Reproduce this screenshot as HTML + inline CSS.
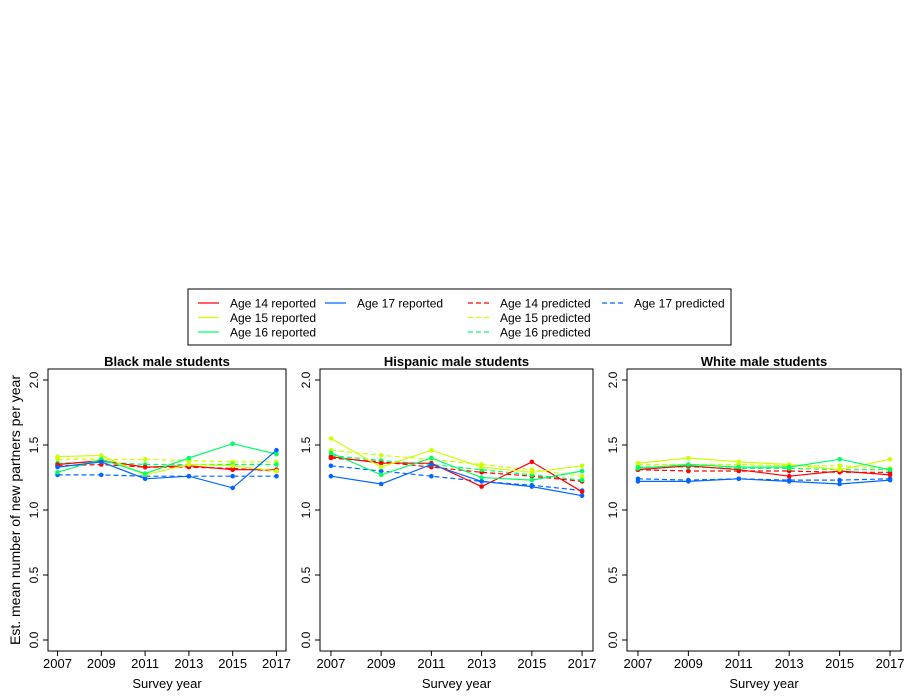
<!DOCTYPE html>
<html><head><meta charset="utf-8"><style>
body{margin:0;background:#fff}
svg{display:block;font-family:"Liberation Sans",Arial,sans-serif}
</style></head><body>
<svg id="c" width="920" height="700"></svg>
<script>
const years=[2007,2009,2011,2013,2015,2017];
const yTicks=[0,0.5,1,1.5,2];
const yTickLabels=["0.0","0.5","1.0","1.5","2.0"];
const panelTitles=["Black male students","Hispanic male students","White male students"];
const ageLabels=["Age 14","Age 15","Age 16","Age 17"];
const blackReported=[[1.35,1.38,1.33,1.34,1.31,1.31],[1.41,1.42,1.27,1.35,1.34,1.30],[1.29,1.39,1.28,1.40,1.51,1.43],[1.33,1.37,1.24,1.26,1.17,1.46]];
const blackPredicted=[[1.34,1.35,1.33,1.33,1.32,1.30],[1.39,1.39,1.39,1.38,1.37,1.37],[1.36,1.37,1.35,1.35,1.35,1.35],[1.27,1.27,1.26,1.26,1.26,1.26]];
const hispReported=[[1.41,1.36,1.36,1.18,1.37,1.14],[1.55,1.33,1.46,1.33,1.29,1.34],[1.44,1.27,1.40,1.25,1.23,1.30],[1.26,1.20,1.35,1.22,1.18,1.11]];
const hispPredicted=[[1.40,1.37,1.33,1.29,1.26,1.22],[1.46,1.42,1.39,1.35,1.31,1.26],[1.42,1.38,1.35,1.31,1.27,1.23],[1.34,1.30,1.26,1.22,1.19,1.15]];
const whiteReported=[[1.31,1.34,1.31,1.26,1.30,1.27],[1.36,1.40,1.37,1.35,1.31,1.39],[1.32,1.35,1.33,1.33,1.39,1.31],[1.22,1.22,1.24,1.22,1.20,1.23]];
const whitePredicted=[[1.31,1.30,1.30,1.30,1.29,1.29],[1.35,1.35,1.35,1.34,1.34,1.32],[1.33,1.33,1.32,1.32,1.31,1.31],[1.24,1.23,1.24,1.23,1.23,1.24]];
const colors=["#FF0000","#CCFF00","#00FF66","#0066FF"];
const reportedAll=[blackReported,hispReported,whiteReported];
const predictedAll=[blackPredicted,hispPredicted,whitePredicted];
const panels=[{l:48,r:286},{l:320,r:593},{l:627,r:901}];
const plotTop=369,plotBot=651;
const svg=document.getElementById('c');
const NS="http://www.w3.org/2000/svg";
function mk(t,a,p){const e=document.createElementNS(NS,t);for(const k in a)e.setAttribute(k,a[k]);(p||svg).appendChild(e);return e;}
function yS(v){return 640-v*130;}
panels.forEach((p,pi)=>{
  const g=mk('g',{});
  
  
  const w=p.r-p.l, x0=p.l+0.04*w, x1=p.r-0.04*w;
  const xS=y=>x0+(y-2007)/10*(x1-x0);
  const fr=mk('rect',{x:p.l,y:plotTop,width:w,height:plotBot-plotTop,fill:'none',stroke:'#000','stroke-width':1},g);
  
  
  const t=mk('text',{x:(p.l+p.r)/2,y:366,'text-anchor':'middle','font-size':13,'font-weight':'bold'},g);
  t.textContent=panelTitles[pi];
  
  
  yTicks.forEach((v,i)=>{
    mk('line',{x1:p.l-5,x2:p.l,y1:yS(v),y2:yS(v),stroke:'#000'},g);
    const lx=p.l-10;
    const tl=mk('text',{x:lx,y:yS(v),'text-anchor':'middle','font-size':12,transform:`rotate(-90 ${lx} ${yS(v)})`},g);
    tl.textContent=yTickLabels[i];
    
    
  });
  years.forEach(y=>{
    mk('line',{x1:xS(y),x2:xS(y),y1:plotBot,y2:plotBot+5,stroke:'#000'},g);
    const xl=mk('text',{x:xS(y),y:668,'text-anchor':'middle','font-size':13},g);
    xl.textContent=y;
    
    
  });
  const xt=mk('text',{x:(p.l+p.r)/2,y:688,'text-anchor':'middle','font-size':13},g);
  xt.textContent='Survey year';
  
  
  [[predictedAll[pi],'5,3'],[reportedAll[pi],null]].forEach(([set,dash])=>{
    set.forEach((vals,si)=>{
      const pts=vals.map((v,i)=>xS(years[i])+','+yS(v)).join(' ');
      const a={points:pts,fill:'none',stroke:colors[si],'stroke-width':1.2};
      if(dash)a['stroke-dasharray']=dash;
      const pl=mk('polyline',a,g);
      
      
      vals.forEach((v,i)=>{
        const c=mk('circle',{cx:xS(years[i]),cy:yS(v),r:2.3,fill:colors[si]},g);
        
        
      });
    });
  });
});
const yt=mk('text',{x:20,y:510,'text-anchor':'middle','font-size':14,transform:'rotate(-90 20 510)'});
yt.textContent='Est. mean number of new partners per year';


const lg=mk('g',{});


mk('rect',{x:188,y:289,width:543,height:56,fill:'#fff',stroke:'#000'},lg);
const entries=[[0,0,0,null],[1,0,1,null],[2,0,2,null],[3,1,0,null],[0,2,0,'5,3'],[1,2,1,'5,3'],[2,2,2,'5,3'],[3,3,0,'5,3']];
const colX=[198,325,468,602];
entries.forEach(([si,col,row,dash])=>{
  const x=colX[col],y=303+row*14.5;
  const a={x1:x,x2:x+21,y1:y,y2:y,stroke:colors[si],'stroke-width':1.2};
  if(dash)a['stroke-dasharray']=dash;
  const ln=mk('line',a,lg);
  
  
  const tx=mk('text',{x:x+32,y:y+4.5,'font-size':12},lg);
  tx.textContent=ageLabels[si]+(dash?' predicted':' reported');
  
  
});
</script>
</body></html>
